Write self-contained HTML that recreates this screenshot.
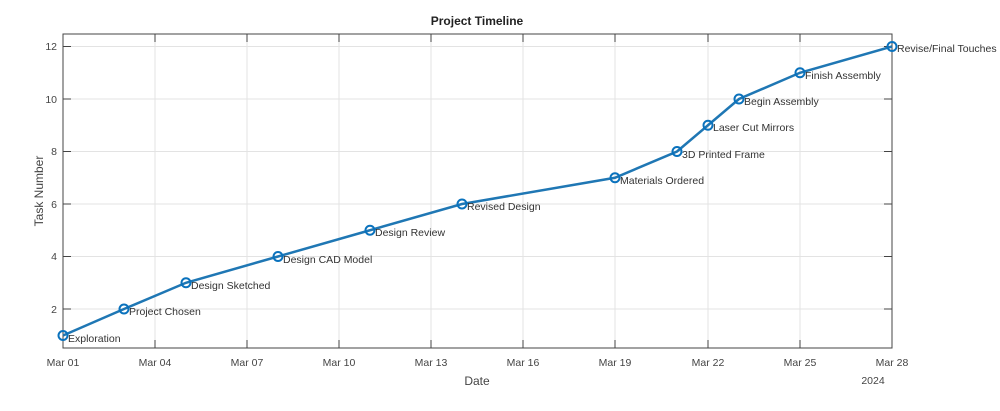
<!DOCTYPE html>
<html><head><style>body{margin:0;background:#fff}</style></head><body>
<svg width="1000" height="406" xmlns="http://www.w3.org/2000/svg" font-family="Liberation Sans, sans-serif">
<rect width="1000" height="406" fill="#fff"/>
<text x="477" y="25" font-size="12" font-weight="bold" text-anchor="middle" fill="#222">Project Timeline</text>
<g stroke="#e3e3e3" stroke-width="1">
<line x1="155" y1="34" x2="155" y2="348"/><line x1="247" y1="34" x2="247" y2="348"/><line x1="339" y1="34" x2="339" y2="348"/><line x1="431" y1="34" x2="431" y2="348"/><line x1="523" y1="34" x2="523" y2="348"/><line x1="615" y1="34" x2="615" y2="348"/><line x1="708" y1="34" x2="708" y2="348"/><line x1="800" y1="34" x2="800" y2="348"/>
<line x1="63" y1="46.5" x2="892" y2="46.5"/><line x1="63" y1="99" x2="892" y2="99"/><line x1="63" y1="151.5" x2="892" y2="151.5"/><line x1="63" y1="204" x2="892" y2="204"/><line x1="63" y1="256.5" x2="892" y2="256.5"/><line x1="63" y1="309" x2="892" y2="309"/>
</g>
<rect x="63" y="34" width="829" height="314" fill="none" stroke="#444" stroke-width="1"/>
<g stroke="#444" stroke-width="1">
<path d="M155 34v8M247 34v8M339 34v8M431 34v8M523 34v8M615 34v8M708 34v8M800 34v8M155 348v-8M247 348v-8M339 348v-8M431 348v-8M523 348v-8M615 348v-8M708 348v-8M800 348v-8"/>
<path d="M63 46.5h8M63 99h8M63 151.5h8M63 204h8M63 256.5h8M63 309h8M892 46.5h-8M892 99h-8M892 151.5h-8M892 204h-8M892 256.5h-8M892 309h-8"/>
</g>
<g font-size="10.5" fill="#444" text-anchor="end">
<text x="57" y="50">12</text><text x="57" y="103">10</text><text x="57" y="155">8</text><text x="57" y="208">6</text><text x="57" y="260">4</text><text x="57" y="313">2</text>
</g>
<g font-size="10.5" fill="#444" text-anchor="middle">
<text x="63" y="366">Mar 01</text><text x="155" y="366">Mar 04</text><text x="247" y="366">Mar 07</text><text x="339" y="366">Mar 10</text><text x="431" y="366">Mar 13</text><text x="523" y="366">Mar 16</text><text x="615" y="366">Mar 19</text><text x="708" y="366">Mar 22</text><text x="800" y="366">Mar 25</text><text x="892" y="366">Mar 28</text>
<text x="873" y="384">2024</text>
</g>
<text x="477" y="385" font-size="12" fill="#444" text-anchor="middle">Date</text>
<text transform="translate(43,191) rotate(-90)" font-size="12" fill="#444" text-anchor="middle">Task Number</text>
<polyline fill="none" stroke="#1f77b4" stroke-width="2.5" points="63,335.5 124,309 186,282.75 278,256.5 370,230.25 462,204 615,177.75 677,151.5 708,125.25 739,99 800,72.75 892,46.5"/>
<g fill="none" stroke="#0a72bd" stroke-width="2">
<circle cx="63" cy="335.5" r="4.5"/><circle cx="124" cy="309" r="4.5"/><circle cx="186" cy="282.75" r="4.5"/><circle cx="278" cy="256.5" r="4.5"/><circle cx="370" cy="230.25" r="4.5"/><circle cx="462" cy="204" r="4.5"/><circle cx="615" cy="177.75" r="4.5"/><circle cx="677" cy="151.5" r="4.5"/><circle cx="708" cy="125.25" r="4.5"/><circle cx="739" cy="99" r="4.5"/><circle cx="800" cy="72.75" r="4.5"/><circle cx="892" cy="46.5" r="4.5"/>
</g>
<g font-size="10.5" fill="#333">
<text x="68" y="342">Exploration</text><text x="129" y="315">Project Chosen</text><text x="191" y="289">Design Sketched</text><text x="283" y="263">Design CAD Model</text><text x="375" y="236">Design Review</text><text x="467" y="210">Revised Design</text><text x="620" y="184">Materials Ordered</text><text x="682" y="158">3D Printed Frame</text><text x="713" y="131">Laser Cut Mirrors</text><text x="744" y="105">Begin Assembly</text><text x="805" y="79">Finish Assembly</text><text x="897" y="52">Revise/Final Touches</text>
</g>
</svg>
</body></html>
